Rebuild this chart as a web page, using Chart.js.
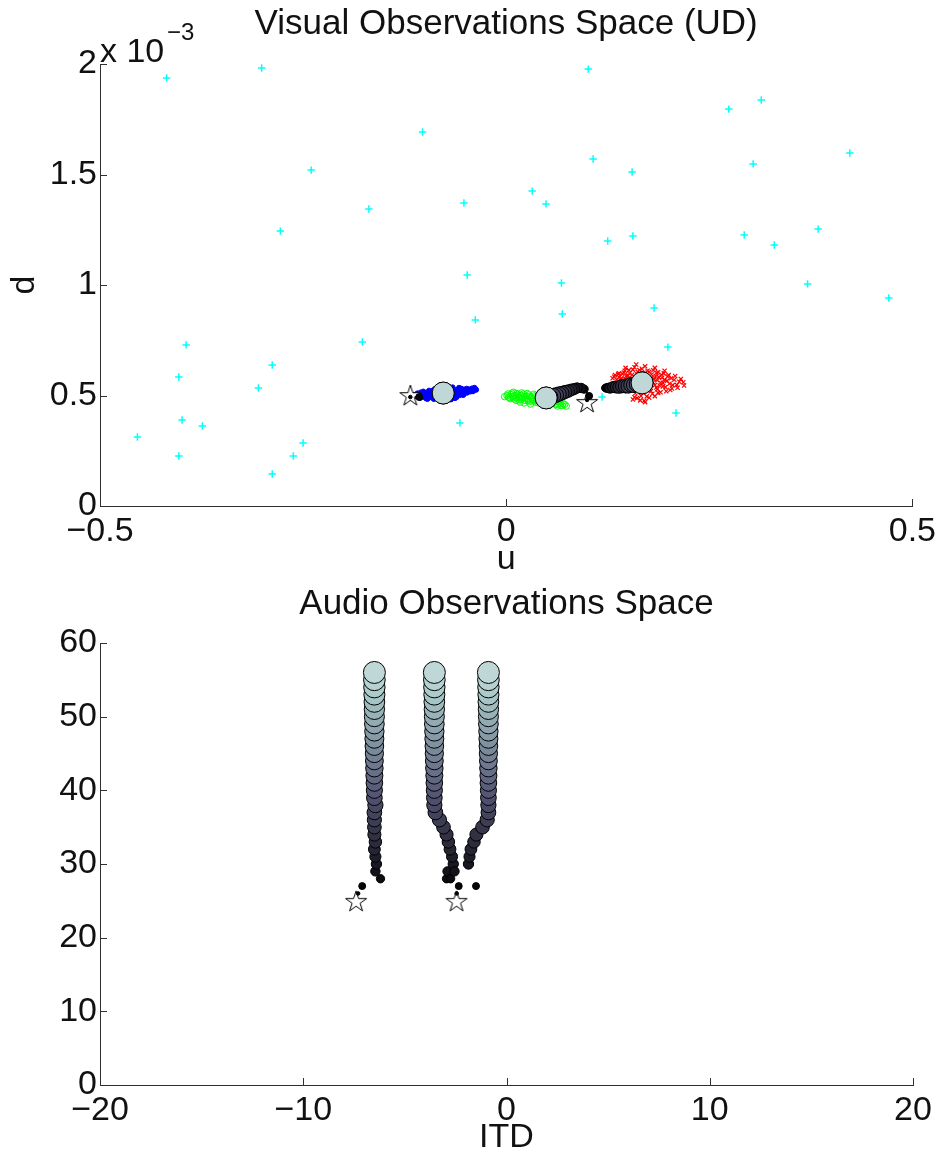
<!DOCTYPE html>
<html lang="en">
<head>
<meta charset="UTF-8">
<title>Visual / Audio Observations Space</title>
<script src="https://cdn.jsdelivr.net/npm/chart.js"></script>
<style>
  body { margin: 0; background: #fff; }
  canvas { position: absolute; left: 0; }
  #visual { top: 0; }
  #audio { top: 580px; }
</style>
</head>
<body>
<canvas id="visual" width="941" height="580"></canvas>
<canvas id="audio" width="941" height="575"></canvas>
<script>
// ---------- visual space (u, d in units of 1e-3) ----------
const clutterU = [-0.418,-0.301,-0.103,-0.240,-0.052,-0.169,-0.278,-0.048,-0.038,-0.394,-0.177,-0.288,-0.403,-0.305,-0.057,-0.399,-0.374,-0.454,-0.250,-0.403,-0.262,-0.288,
  0.101,0.314,0.274,0.423,0.107,0.304,0.155,0.032,0.049,0.384,0.156,0.125,0.293,0.330,0.068,0.371,0.471,0.069,0.182,0.199,0.118,0.209];
const clutterD = [1.937,1.982,1.692,1.520,1.371,1.344,1.244,1.045,0.842,0.729,0.742,0.638,0.584,0.534,0.376,0.389,0.362,0.312,0.285,0.226,0.226,0.145,
  1.977,1.837,1.796,1.597,1.570,1.548,1.511,1.425,1.367,1.253,1.222,1.199,1.226,1.181,1.009,1.005,0.941,0.869,0.896,0.719,0.493,0.421];

const blueU = [-0.114,-0.111,-0.109,-0.106,-0.104,-0.102,-0.100,-0.098,-0.097,-0.095,-0.093,-0.092,-0.090,-0.088,-0.087,-0.085,-0.083,-0.082,-0.080,-0.078,-0.076,-0.074,-0.073,-0.071,-0.069,-0.067,-0.066,-0.064,-0.062,-0.061,-0.059,-0.057,-0.055,-0.054,-0.052,-0.050,-0.048,-0.046,-0.044,-0.042,-0.040,-0.038,-0.095,-0.089,-0.079,-0.070,-0.058,-0.049,
  -0.113,-0.110,-0.108,-0.105,-0.103,-0.101,-0.099,-0.096,-0.094,-0.091,-0.089,-0.086,-0.084,-0.081,-0.079,-0.077,-0.075,-0.072,-0.070,-0.068,-0.065,-0.063,-0.060,-0.058,-0.056,-0.053,-0.051,-0.049,-0.047,-0.045,-0.043,-0.041,-0.039,-0.037,-0.084,-0.072,-0.061,-0.053];
const blueD = [0.503,0.497,0.510,0.489,0.505,0.518,0.496,0.510,0.484,0.522,0.503,0.491,0.515,0.529,0.499,0.486,0.508,0.521,0.532,0.494,0.480,0.514,0.527,0.503,0.490,0.520,0.537,0.509,0.497,0.525,0.514,0.502,0.531,0.519,0.507,0.524,0.513,0.528,0.518,0.532,0.524,0.529,0.498,0.505,0.517,0.512,0.521,0.517,
  0.495,0.506,0.500,0.514,0.494,0.508,0.488,0.515,0.509,0.521,0.484,0.516,0.527,0.488,0.525,0.539,0.486,0.495,0.530,0.482,0.527,0.488,0.506,0.535,0.513,0.525,0.512,0.531,0.520,0.524,0.527,0.519,0.535,0.526,0.498,0.540,0.493,0.502];

const greenU = [0.001,0.004,0.006,0.008,0.010,0.011,0.013,0.015,0.016,0.018,0.020,0.021,0.023,0.025,0.026,0.028,0.030,0.031,0.033,0.035,0.036,0.038,0.040,0.042,0.044,0.046,0.049,0.052,0.055,0.058,0.061,0.064,0.067,0.070,0.074,0.019,0.027,0.009,
  0.002,0.003,0.005,0.007,0.009,0.012,0.012,0.014,0.017,0.017,0.019,0.022,0.022,0.024,0.026,0.027,0.029,0.030,0.032,0.034,0.034,0.037,0.039,0.041,0.043,0.045,0.048,0.051,0.053,0.057,0.060,0.063,0.066,0.069,0.072,-0.002];
const greenD = [0.499,0.490,0.504,0.495,0.484,0.500,0.509,0.492,0.481,0.501,0.489,0.507,0.478,0.496,0.486,0.503,0.474,0.492,0.482,0.499,0.470,0.488,0.477,0.493,0.466,0.481,0.472,0.463,0.478,0.467,0.459,0.471,0.456,0.463,0.452,0.512,0.475,0.515,
  0.507,0.493,0.486,0.511,0.497,0.490,0.478,0.502,0.493,0.470,0.484,0.497,0.466,0.488,0.509,0.480,0.495,0.461,0.486,0.506,0.476,0.495,0.467,0.484,0.475,0.491,0.462,0.476,0.455,0.471,0.462,0.452,0.466,0.455,0.460,0.495];

const redU = [0.133,0.136,0.138,0.140,0.142,0.144,0.145,0.147,0.148,0.150,0.151,0.153,0.154,0.155,0.157,0.158,0.159,0.160,0.162,0.163,0.164,0.166,0.167,0.168,0.170,0.171,0.172,0.174,0.175,0.176,0.178,0.179,0.180,0.182,0.183,0.185,0.186,0.188,0.190,0.191,0.193,0.195,0.197,0.199,0.201,0.204,0.207,0.210,0.213,0.218,0.156,0.161,0.149,
  0.131,0.134,0.137,0.139,0.141,0.143,0.143,0.146,0.146,0.149,0.150,0.152,0.152,0.154,0.156,0.156,0.158,0.159,0.161,0.161,0.163,0.164,0.165,0.166,0.168,0.169,0.169,0.171,0.172,0.173,0.174,0.176,0.177,0.178,0.179,0.181,0.181,0.183,0.184,0.185,0.186,0.187,0.189,0.190,0.192,0.193,0.194,0.196,0.198,0.200,0.202,0.203,0.205,0.208,0.211,0.215,0.219,0.165,0.171,0.158,0.176,0.187,0.145,0.139,0.147,0.160,0.183,0.195];
const redD = [0.585,0.571,0.597,0.548,0.579,0.560,0.604,0.535,0.589,0.568,0.615,0.546,0.523,0.594,0.577,0.628,0.510,0.556,0.607,0.538,0.585,0.498,0.621,0.566,0.476,0.599,0.545,0.612,0.527,0.580,0.562,0.595,0.508,0.574,0.547,0.603,0.529,0.583,0.558,0.594,0.541,0.572,0.519,0.586,0.553,0.532,0.571,0.548,0.562,0.560,0.482,0.488,0.519,
  0.578,0.592,0.556,0.583,0.566,0.598,0.541,0.575,0.612,0.553,0.590,0.530,0.601,0.569,0.540,0.617,0.585,0.553,0.524,0.596,0.573,0.615,0.545,0.587,0.513,0.603,0.552,0.632,0.578,0.496,0.561,0.607,0.538,0.520,0.581,0.614,0.560,0.497,0.588,0.536,0.569,0.605,0.545,0.515,0.580,0.557,0.600,0.538,0.566,0.592,0.525,0.578,0.547,0.588,0.535,0.575,0.545,0.478,0.470,0.492,0.490,0.512,0.520,0.600,0.625,0.640,0.625,0.612];

// tracked speaker positions, one entry per frame
const framesAB = [26,27,28,29,30,31,32,33,34,35,36,37,38,39,40,41,42,43,44,45,46,47,48,49,50,51,52,53,54,55,56];
const framesC = [27,28,29,30,31,32,33,34,35,36,37,38,39,40,41,42,43,44,45,46,47,48,49,50,51,52,53,54,55,56];

const trackAU = [-0.118,-0.107,-0.080,-0.078,-0.0775,-0.0775,-0.0775,-0.0775,-0.0775,-0.0775,-0.0775,-0.0775,-0.0775,-0.0775,-0.0775,-0.0775,-0.0775,-0.0775,-0.0775,-0.0775,-0.0775,-0.0775,-0.0775,-0.0775,-0.0775,-0.0775,-0.0775,-0.0775,-0.0775,-0.0775,-0.0775];
const trackAD = [0.493,0.493,0.509,0.510,0.511,0.511,0.511,0.511,0.511,0.511,0.511,0.511,0.511,0.511,0.511,0.511,0.511,0.511,0.511,0.511,0.511,0.511,0.511,0.511,0.511,0.511,0.511,0.511,0.511,0.511,0.511];
const trackBU = [0.0996,0.1021,0.0959,0.0923,0.0873,0.0836,0.0800,0.0763,0.0726,0.0689,0.0652,0.0615,0.0578,0.0541,0.0517,0.0492,0.0492,0.0492,0.0492,0.0492,0.0492,0.0492,0.0492,0.0492,0.0492,0.0492,0.0492,0.0492,0.0492,0.0492,0.0492];
const trackBD = [0.480,0.498,0.529,0.534,0.534,0.529,0.525,0.520,0.516,0.511,0.507,0.502,0.498,0.493,0.489,0.489,0.489,0.489,0.489,0.489,0.489,0.489,0.489,0.489,0.489,0.489,0.489,0.489,0.489,0.489,0.489];
const trackCU = [0.1218,0.1230,0.1255,0.1279,0.1316,0.1353,0.1390,0.1427,0.1464,0.1501,0.1538,0.1574,0.1611,0.1648,0.1673,0.1673,0.1673,0.1673,0.1673,0.1673,0.1673,0.1673,0.1673,0.1673,0.1673,0.1673,0.1673,0.1673,0.1673,0.1673];
const trackCD = [0.534,0.534,0.534,0.534,0.538,0.538,0.538,0.543,0.543,0.543,0.548,0.548,0.552,0.552,0.557,0.557,0.557,0.557,0.557,0.557,0.557,0.557,0.557,0.557,0.557,0.557,0.557,0.557,0.557,0.557];

const startU = [-0.118, 0.0996];
const startD = [0.502, 0.471];

// ---------- audio space (ITD, frame) ----------
const itdA = [-7.3,-7.1,-6.2,-6.45,-6.4,-6.45,-6.5,-6.45,-6.5,-6.5,-6.5,-6.5,-6.45,-6.5,-6.5,-6.5,-6.5,-6.5,-6.5,-6.5,-6.5,-6.5,-6.5,-6.5,-6.5,-6.5,-6.5,-6.5,-6.5,-6.5,-6.5];
const itdB = [-2.45,-2.35,-2.95,-2.9,-2.62,-2.68,-2.78,-2.86,-2.95,-3.1,-3.3,-3.5,-3.55,-3.55,-3.55,-3.55,-3.55,-3.55,-3.55,-3.55,-3.55,-3.55,-3.55,-3.55,-3.55,-3.55,-3.55,-3.55,-3.55,-3.55,-3.55];
const itdC = [-1.5,-2.75,-2.56,-1.87,-1.82,-1.75,-1.6,-1.48,-1.18,-0.95,-0.89,-0.89,-0.89,-0.89,-0.89,-0.89,-0.89,-0.89,-0.89,-0.89,-0.89,-0.89,-0.89,-0.89,-0.89,-0.89,-0.89,-0.89,-0.89,-0.89];
const startItd = [-7.4, -2.46];
const startFrame = [25, 25];

// ---------- styling helpers ----------
const FONT = '"Liberation Sans", Arial, sans-serif';
const INK = '#111111';
const AXIS = '#303030';

function bone(t) {
  const hr = Math.min(1, t / 0.375);
  const hg = Math.min(1, Math.max(0, (t - 0.375) / 0.375));
  const hb = Math.min(1, Math.max(0, (t - 0.75) / 0.25));
  const c = v => Math.round(255 * v);
  return 'rgb(' + c((7 * t + hb) / 8) + ',' + c((7 * t + hg) / 8) + ',' + c((7 * t + hr) / 8) + ')';
}
function progress(f) { return Math.min(1, Math.max(0, (f - 26) / 30)); }
function frameRadius(ctx) { return 1.8 + 9.2 * Math.sqrt(progress(ctx.dataset.frames[ctx.dataIndex])); }
function frameColor(ctx) { return bone(0.82 * progress(ctx.dataset.frames[ctx.dataIndex])); }

function makeStar(R) {
  const c = document.createElement('canvas');
  const s = Math.ceil(2 * R + 4);
  c.width = s; c.height = s;
  const g = c.getContext('2d');
  const cx = s / 2, cy = s / 2 + R * 0.1;
  g.beginPath();
  for (let i = 0; i < 10; i++) {
    const rr = i % 2 ? R * 0.382 : R;
    const a = -Math.PI / 2 + i * Math.PI / 5;
    g.lineTo(cx + rr * Math.cos(a), cy + rr * Math.sin(a));
  }
  g.closePath();
  g.fillStyle = '#ffffff'; g.fill();
  g.strokeStyle = '#000000'; g.lineWidth = 1; g.stroke();
  return c;
}
const star = makeStar(11);

function pts(xs, ys) { return xs.map((x, i) => ({x: x, y: ys[i]})); }
function fmt(v) {
  const a = Math.round(Math.abs(v) * 1000) / 1000;
  return (v < 0 ? '\u2212' : '') + a;
}

function trackSet(xs, ys, frames) {
  return {
    data: pts(xs, ys), frames: frames,
    pointStyle: 'circle', pointRadius: frameRadius,
    pointBackgroundColor: frameColor, pointBorderColor: '#000000', pointBorderWidth: 1
  };
}
function startSet(xs, ys) {
  return { data: pts(xs, ys), pointStyle: star, pointRadius: 11 };
}

// draw tick marks pointing into the axes, matlab style
const inwardTicks = {
  id: 'inwardTicks',
  afterDatasetsDraw(chart) {
    const {ctx, chartArea: a, scales} = chart;
    ctx.save();
    ctx.strokeStyle = AXIS;
    ctx.lineWidth = 1;
    ctx.beginPath();
    scales.x.ticks.forEach(t => {
      const px = Math.round(scales.x.getPixelForValue(t.value)) + 0.5;
      ctx.moveTo(px, a.bottom); ctx.lineTo(px, a.bottom - 7);
    });
    scales.y.ticks.forEach(t => {
      const py = Math.round(scales.y.getPixelForValue(t.value)) + 0.5;
      ctx.moveTo(a.left, py); ctx.lineTo(a.left + 7, py);
    });
    ctx.stroke();
    ctx.restore();
  }
};

const exponentLabel = {
  id: 'exponentLabel',
  afterDraw(chart) {
    const {ctx, chartArea: a} = chart;
    ctx.save();
    ctx.fillStyle = INK;
    ctx.textBaseline = 'alphabetic';
    ctx.textAlign = 'left';
    ctx.font = '34px ' + FONT;
    ctx.fillText('x 10', a.left, a.top - 2);
    ctx.font = '24px ' + FONT;
    ctx.fillText('\u22123', a.left + 67, a.top - 24);
    ctx.restore();
  }
};

function makeOptions(o) {
  return {
    responsive: false,
    animation: false,
    events: [],
    layout: { padding: { left: 0, right: 28, top: 0, bottom: 0 } },
    plugins: {
      legend: { display: false },
      tooltip: { enabled: false },
      title: {
        display: true, text: o.title, color: INK, fullSize: false,
        font: { family: FONT, size: 35, weight: 'normal', lineHeight: 1.2 },
        padding: { top: 3, bottom: o.titleGap }
      }
    },
    scales: {
      x: {
        type: 'linear', position: 'bottom', min: o.xMin, max: o.xMax,
        ticks: { stepSize: o.xStep, color: INK, font: { family: FONT, size: 34 }, padding: 5,
                 callback: fmt, maxRotation: 0, autoSkip: false },
        grid: { display: false, drawTicks: false, tickLength: 0 },
        border: { display: true, color: AXIS, width: 1 },
        title: { display: true, text: o.xTitle, color: INK,
                 font: { family: FONT, size: 34, lineHeight: 1 }, padding: { top: 0, bottom: o.xTitlePad } },
        afterFit: s => { s.height = o.xHeight; }
      },
      y: {
        type: 'linear', position: 'left', min: o.yMin, max: o.yMax,
        ticks: { stepSize: o.yStep, color: INK, font: { family: FONT, size: 34 }, padding: 3,
                 callback: fmt, autoSkip: false },
        grid: { display: false, drawTicks: false, tickLength: 0 },
        border: { display: true, color: AXIS, width: 1 },
        title: { display: !!o.yTitle, text: o.yTitle || '', color: INK,
                 font: { family: FONT, size: 34, lineHeight: 1 }, padding: { top: 8, bottom: 0 } },
        afterFit: s => { s.width = 100; }
      }
    }
  };
}

// ---------- visual chart ----------
const visualSets = [
  { data: pts(clutterU, clutterD), pointStyle: 'cross', pointRadius: 3.7, pointBorderColor: '#00ffff', pointBorderWidth: 1.5 },
  { data: pts(blueU, blueD), pointStyle: 'circle', pointRadius: 2.5, pointBackgroundColor: '#0000ff', pointBorderColor: '#0000ff', pointBorderWidth: 1 },
  { data: pts(greenU, greenD), pointStyle: 'circle', pointRadius: 3.2, pointBackgroundColor: 'rgba(0,0,0,0)', pointBorderColor: '#00ff00', pointBorderWidth: 1 },
  { data: pts(redU, redD), pointStyle: 'crossRot', pointRadius: 3, pointBorderColor: '#ff0000', pointBorderWidth: 1.2 },
  startSet(startU, startD),
  trackSet(trackAU, trackAD, framesAB),
  trackSet(trackBU, trackBD, framesAB),
  trackSet(trackCU, trackCD, framesC)
].reverse(); // first dataset is painted last in Chart.js

new Chart(document.getElementById('visual'), {
  type: 'scatter',
  data: { datasets: visualSets },
  options: makeOptions({
    title: 'Visual Observations Space (UD)', titleGap: 19,
    xMin: -0.5, xMax: 0.5, xStep: 0.5, xTitle: 'u', xTitlePad: 3, xHeight: 74,
    yMin: 0, yMax: 2, yStep: 0.5, yTitle: 'd'
  }),
  plugins: [inwardTicks, exponentLabel]
});

// ---------- audio chart ----------
const audioSets = [
  startSet(startItd, startFrame),
  trackSet(itdA, framesAB, framesAB),
  trackSet(itdB, framesAB, framesAB),
  trackSet(itdC, framesC, framesC)
].reverse();

new Chart(document.getElementById('audio'), {
  type: 'scatter',
  data: { datasets: audioSets },
  options: makeOptions({
    title: 'Audio Observations Space', titleGap: 18,
    xMin: -20, xMax: 20, xStep: 10, xTitle: 'ITD', xTitlePad: 0, xHeight: 70,
    yMin: 0, yMax: 60, yStep: 10
  }),
  plugins: [inwardTicks]
});
</script>
</body>
</html>
